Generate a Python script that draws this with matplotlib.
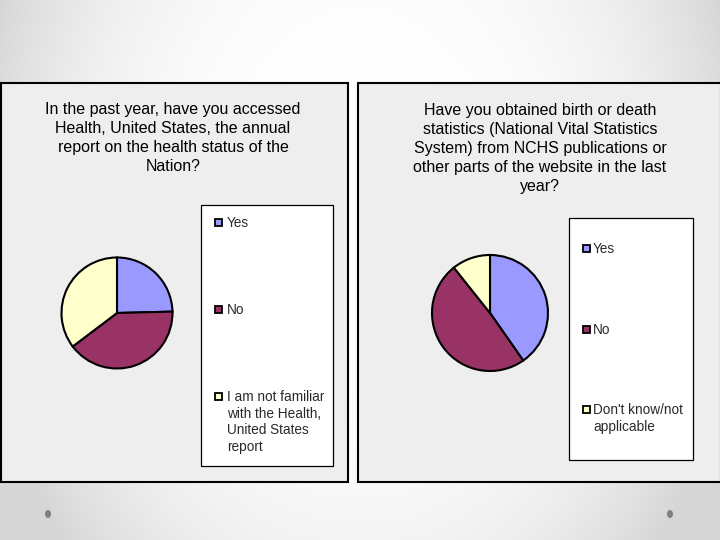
import numpy as np
import matplotlib
matplotlib.use("Agg")
import matplotlib.pyplot as plt
from matplotlib.patches import Rectangle, Ellipse

plt.rcParams['font.family'] = ['Liberation Sans', 'DejaVu Sans']

# ---- data ----
title_left = "In the past year, have you accessed\nHealth, United States, the annual\nreport on the health status of the\nNation?"
labels_left = ["Yes", "No", "I am not familiar\nwith the Health,\nUnited States\nreport"]
values_left = [24.6, 40.1, 35.3]

title_right = "Have you obtained birth or death\nstatistics (National Vital Statistics\nSystem) from NCHS publications or\nother parts of the website in the last\nyear?"
labels_right = ["Yes", "No", "Don't know/not\napplicable"]
values_right = [40.3, 49.0, 10.7]

colors = ["#9999FF", "#993366", "#FFFFCC"]

W, H = 720, 540
fig = plt.figure(figsize=(7.2, 5.4), dpi=100)

# background radial gradient
bg = fig.add_axes([0, 0, 1, 1])
yy, xx = np.mgrid[0:H, 0:W]
r = np.sqrt(((xx - 360) / 380.0) ** 2 + ((yy - 200) / 520.0) ** 2)
g = np.clip(1.0 - 0.15 * r ** 3, 0.84, 1.0)
bg.imshow(np.dstack([g, g, g]), extent=[0, W, H, 0], aspect='auto')
bg.set_xlim(0, W)
bg.set_ylim(H, 0)
bg.axis('off')

# chart boxes
for (x0, x1) in [(0.5, 348), (358, 721)]:
    bg.add_patch(Rectangle((x0, 83), x1 - x0, 482 - 83, facecolor="#EEEEEE",
                           edgecolor="black", lw=1.5, zorder=2))

# legend boxes
for (x0, y0, x1, y1) in [(201, 205, 333, 466), (569, 218, 693, 460)]:
    bg.add_patch(Rectangle((x0, y0), x1 - x0, y1 - y0, facecolor="white",
                           edgecolor="black", lw=0.9, zorder=3))

# titles
bg.text(173, 138, title_left, ha='center', va='center', fontsize=11.5,
        linespacing=1.36, color='black', zorder=4)
bg.text(540, 148.5, title_right, ha='center', va='center', fontsize=11.5,
        linespacing=1.32, color='black', zorder=4)

# legend entries
leg_left_y = [223, 310, 422]
leg_right_y = [249, 330, 418.5]
first_row_left = [223, 310, 397]
first_row_right = [249, 330, 410]
for labels, ys, rows, mx, tx in [(labels_left, leg_left_y, first_row_left, 215, 227),
                                 (labels_right, leg_right_y, first_row_right, 583, 593)]:
    for lab, yv, row, c in zip(labels, ys, rows, colors):
        bg.add_patch(Rectangle((mx, row - 4), 7, 7, facecolor=c, edgecolor='black',
                               lw=1.3, zorder=5))
        bg.text(tx, yv, lab, ha='left', va='center', fontsize=9.8,
                linespacing=1.25, color='#2a2a2a', zorder=5)

# dots
for cx in [48, 670]:
    bg.add_patch(Ellipse((cx, 514), 6, 8, facecolor="#7F7F7F", edgecolor='none', zorder=2))

# pies
def pie_axes(cx, cy, rad):
    ax = fig.add_axes([(cx - rad) / W, (H - cy - rad) / H, 2 * rad / W, 2 * rad / H])
    ax.set_zorder(6)
    return ax

for vals, (cx, cy, rad) in [(values_left, (117, 313, 55.5)), (values_right, (490, 313, 58))]:
    ax = pie_axes(cx, cy, rad)
    ax.pie(vals, colors=colors, startangle=90, counterclock=False, radius=1,
           wedgeprops=dict(edgecolor='black', linewidth=1.5))
    ax.set_xlim(-1, 1)
    ax.set_ylim(-1, 1)
    ax.set_aspect('equal')
    ax.axis('off')

fig.savefig("out.png", dpi=100)
